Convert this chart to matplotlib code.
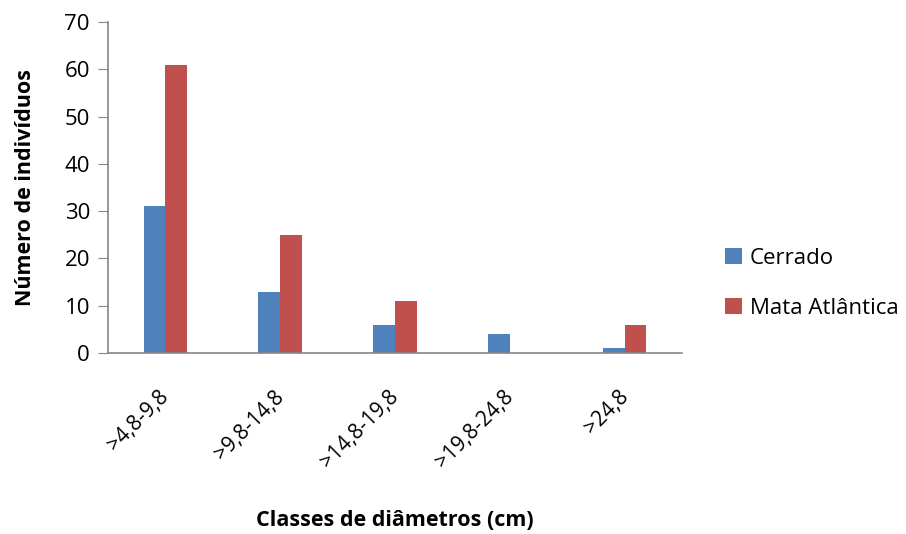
import numpy as np
import matplotlib.pyplot as plt
from matplotlib.transforms import ScaledTranslation

plt.rcParams['font.family'] = ['Open Sans', 'DejaVu Sans']

classes = ['>4,8-9,8', '>9,8-14,8', '>14,8-19,8', '>19,8-24,8', '>24,8']
cerrado = [31, 13, 6, 4, 1]
mata_atlantica = [61, 25, 11, 0, 6]

blue = '#4f81bd'
red = '#c0504d'
axis_grey = '#868686'

fig = plt.figure(figsize=(9.06, 5.34), dpi=100)
ax = fig.add_axes([108 / 906, 1 - 353 / 534, 574 / 906, 331 / 534])

x = np.arange(len(classes))
w = 0.19
ax.bar(x - w / 2, cerrado, w, color=blue, label='Cerrado')
ax.bar(x + w / 2, mata_atlantica, w, color=red, label='Mata Atlântica')

ax.set_xlim(-0.5, len(classes) - 0.5)
ax.set_ylim(0, 70)
ax.set_yticks(range(0, 71, 10))
ax.set_xticks(x)
ax.set_xticklabels(classes, rotation=45, ha='right', rotation_mode='anchor', fontsize=15)
ax.tick_params(axis='x', length=0, pad=24)
ax.tick_params(axis='y', length=7, color=axis_grey, labelsize=16, pad=6)

# nudge the slanted category labels a bit to the left
shift = ScaledTranslation(-7 / 100, 0, fig.dpi_scale_trans)
for lbl in ax.get_xticklabels():
    lbl.set_transform(lbl.get_transform() + shift)

for s in ['top', 'right']:
    ax.spines[s].set_visible(False)
for s in ['left', 'bottom']:
    ax.spines[s].set_color(axis_grey)
    ax.spines[s].set_linewidth(1.2)

ax.set_ylabel('Número de indivíduos', fontsize=15.5, fontweight='bold')
ax.yaxis.set_label_coords((36 - 108) / 574, 0.5)
fig.text(395 / 906, 1 - 520 / 534, 'Classes de diâmetros (cm)', ha='center', va='center',
         fontsize=15.5, fontweight='bold')

ax.legend(loc='center left', bbox_to_anchor=(1.06, 0.21), frameon=False, fontsize=16,
          handlelength=0.75, handleheight=0.75, handletextpad=0.35, labelspacing=1.3,
          borderaxespad=0)

fig.savefig('out.png', dpi=100)
